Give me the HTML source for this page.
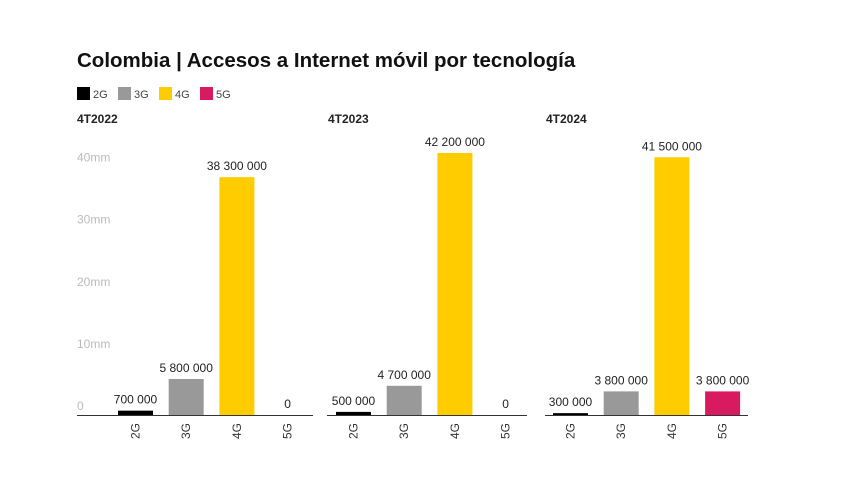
<!DOCTYPE html>
<html><head><meta charset="utf-8"><style>
body{margin:0;background:#fff;font-family:"Liberation Sans",sans-serif;}
#c{position:relative;width:850px;height:486px;overflow:hidden;}
</style></head><body><div id="c">
<svg id="s" width="850" height="486">
<text x="77" y="67" font-size="20.5" font-weight="bold" fill="#111">Colombia | Accesos a Internet móvil por tecnología</text>
<g id="legend"></g>
<g id="plot"></g>
</svg></div>
<script>
const categories=["2G","3G","4G","5G"];
const periods=["4T2022","4T2023","4T2024"];
const values2022=[700000,5800000,38300000,0];
const values2023=[500000,4700000,42200000,0];
const values2024=[300000,3800000,41500000,3800000];
const valueLabels2022=["700 000","5 800 000","38 300 000","0"];
const valueLabels2023=["500 000","4 700 000","42 200 000","0"];
const valueLabels2024=["300 000","3 800 000","41 500 000","3 800 000"];
const yTicks=[0,10000000,20000000,30000000,40000000];
const yTickLabels=["0","10mm","20mm","30mm","40mm"];
const colors=["#000000","#999999","#ffcc00","#d81b60"];
const NS="http://www.w3.org/2000/svg";
function mk(t,a,p){const e=document.createElementNS(NS,t);for(const k in a)e.setAttribute(k,a[k]);p.appendChild(e);return e;}
const base=415;
function y(v){return base-v*6.21e-6;}
const leg=document.getElementById('legend');
let lx=77;
categories.forEach((c,i)=>{
 const r=mk('rect',{x:lx,y:87,width:13,height:13,fill:colors[i]},leg);
 
 
 const t=mk('text',{x:lx+16,y:98,'font-size':11,fill:'#444'},leg);t.textContent=c;
 
 
 lx+=41;
});
const plot=document.getElementById('plot');
const panels=[{x0:77,x1:313,b0:118},{x0:327,x1:527,b0:336},{x0:545,x1:748,b0:553}];
const data=[values2022,values2023,values2024];
const labs=[valueLabels2022,valueLabels2023,valueLabels2024];
yTicks.forEach((v,i)=>{
 const t=mk('text',{x:77,y:y(v)-5,'font-size':12,fill:'#bbb'},plot);t.textContent=yTickLabels[i];
 
 
});
panels.forEach((p,pi)=>{
 const h=mk('text',{x:p.x0+(pi==0?0:1),y:123,'font-size':12,'font-weight':'bold',fill:'#222'},plot);h.textContent=periods[pi];
 
 
 categories.forEach((c,i)=>{
  const v=data[pi][i],bx=p.b0+i*50.7,w=35;
  const r=mk('rect',{x:bx,y:y(v),width:w,height:base-y(v),fill:colors[i]},plot);
  
  
  const t=mk('text',{x:bx+w/2,y:y(v)-7,'font-size':12,fill:'#222','text-anchor':'middle'},plot);t.textContent=labs[pi][i];
  
  
  const cx=bx+w/2+4;
  const ct=mk('text',{x:cx,y:423,'font-size':12,fill:'#333','text-anchor':'end',transform:`rotate(-90 ${cx} 423)`},plot);ct.textContent=c;
  
  
 });
 const l=mk('line',{x1:p.x0,x2:p.x1,y1:base+0.5,y2:base+0.5,stroke:'#333','stroke-width':1},plot);
 
 
});
</script></body></html>
